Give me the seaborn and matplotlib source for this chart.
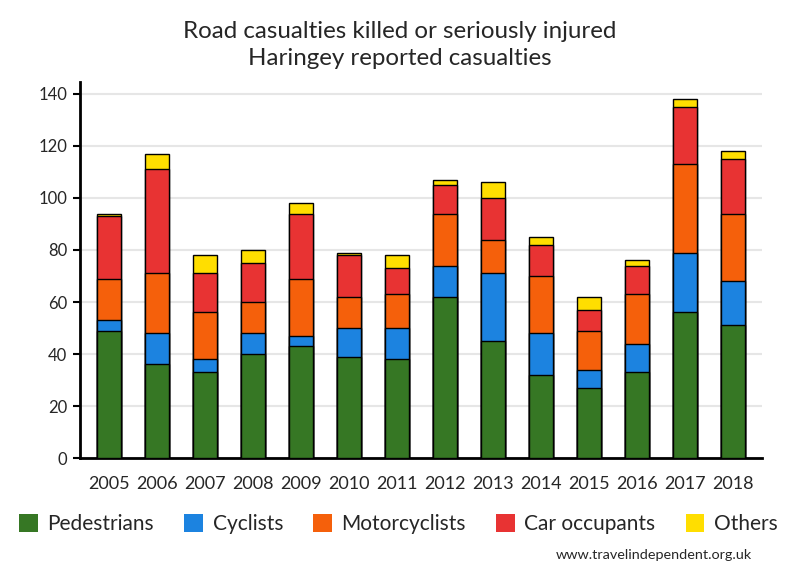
import matplotlib
matplotlib.use("Agg")
import matplotlib.pyplot as plt
import seaborn as sns
import pandas as pd
import numpy as np
from matplotlib.patches import Patch

years = ["2005", "2006", "2007", "2008", "2009", "2010", "2011",
         "2012", "2013", "2014", "2015", "2016", "2017", "2018"]
pedestrians = [49, 36, 33, 40, 43, 39, 38, 62, 45, 32, 27, 33, 56, 51]
cyclists = [4, 12, 5, 8, 4, 11, 12, 12, 26, 16, 7, 11, 23, 17]
motorcyclists = [16, 23, 18, 12, 22, 12, 13, 20, 13, 22, 15, 19, 34, 26]
car_occupants = [24, 40, 15, 15, 25, 16, 10, 11, 16, 12, 8, 11, 22, 21]
others = [1, 6, 7, 5, 4, 1, 5, 2, 6, 3, 5, 2, 3, 3]

series_names = ["Pedestrians", "Cyclists", "Motorcyclists", "Car occupants", "Others"]
series_vals = [pedestrians, cyclists, motorcyclists, car_occupants, others]
colors = ["#367724", "#1c83e0", "#f5600b", "#e83333", "#ffde00"]

sns.set_theme(style="white")
plt.rcParams["font.family"] = ["Lato", "DejaVu Sans"]

fig = plt.figure(figsize=(8, 5.8), dpi=100)
ax = fig.add_axes([0.1, 0.2103, 0.8525, 0.6483])

cum = np.cumsum(np.array(series_vals), axis=0)
# draw from top (largest cumulative) down so lower segments overlay
for i in range(len(series_names) - 1, -1, -1):
    df = pd.DataFrame({"year": years, "value": cum[i]})
    sns.barplot(data=df, x="year", y="value", color=colors[i], saturation=1,
                width=0.5, edgecolor="black", linewidth=1.0, ax=ax, zorder=3)

ax.set_xlim(-0.6, 13.6)
ax.set_ylim(0, 144.6)
ax.set_yticks(range(0, 141, 20))
ax.set_xlabel("")
ax.set_ylabel("")
ax.grid(axis="y", color="#e6e6e6", linewidth=1.5, zorder=0)
ax.set_axisbelow(True)
for s in ["top", "right"]:
    ax.spines[s].set_visible(False)
for s in ["left", "bottom"]:
    ax.spines[s].set_color("black")
    ax.spines[s].set_linewidth(2)
ax.tick_params(axis="y", length=5, width=1.5, color="black", pad=4, labelsize=12, left=True)
ax.tick_params(axis="x", length=0, pad=13, labelsize=13)

fig.text(0.5, 0.923, "Road casualties killed or seriously injured\nHaringey reported casualties",
         ha="center", va="center", fontsize=17.4, linespacing=1.36)

handles = [Patch(facecolor=c, edgecolor="none") for c in colors]
fig.legend(handles, series_names, loc="center", bbox_to_anchor=(0.498, 0.096), ncol=5,
           frameon=False, fontsize=15, handlelength=0.9, handleheight=0.9,
           handletextpad=0.45, columnspacing=1.45, borderaxespad=0)

fig.text(0.94, 0.043, "www.travelindependent.org.uk", ha="right", va="center", fontsize=10.4)

fig.savefig("out.png", dpi=100)
